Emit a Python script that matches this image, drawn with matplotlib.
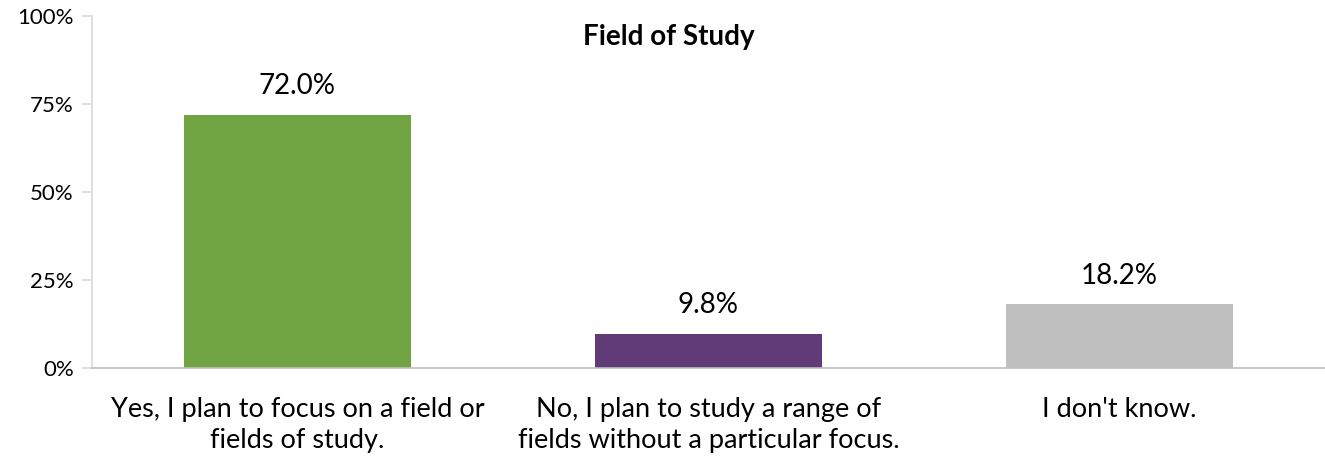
import numpy as np
import matplotlib.pyplot as plt

plt.rcParams['font.family'] = ['Lato', 'DejaVu Sans']

categories = ['Yes, I plan to focus on a field or\nfields of study.',
              'No, I plan to study a range of\nfields without a particular focus.',
              "I don't know."]
values = [72.0, 9.8, 18.2]
colors = ['#70A442', '#603B78', '#BFBFBF']
yticks = [0, 25, 50, 75, 100]

fig = plt.figure(figsize=(13.25, 4.58), dpi=100)
ax = fig.add_axes([0.0694, 0.1965, 0.9306, 0.7685])

x = np.arange(len(values))
bars = ax.bar(x, values, width=0.552, color=colors, zorder=2)

for xi, v in zip(x, values):
    ax.annotate('%.1f%%' % v, (xi, v), xytext=(0, 11), textcoords='offset points',
                ha='center', va='bottom', fontsize=20)

ax.set_xlim(-0.5, 2.5)
ax.set_ylim(0, 100)
ax.set_yticks(yticks)
ax.set_yticklabels(['%d%%' % t for t in yticks], fontsize=16)
ax.set_xticks(x)
ax.set_xticklabels(categories, fontsize=19.5, linespacing=1.3)

for s in ['top', 'right']:
    ax.spines[s].set_visible(False)
ax.spines['left'].set_color('#D9D9D9')
ax.spines['bottom'].set_color('#BFBFBF')
ax.spines['left'].set_linewidth(1.2)
ax.spines['bottom'].set_linewidth(1.2)
ax.tick_params(axis='y', length=7, color='#D9D9D9', width=1.2, pad=6)
ax.tick_params(axis='x', length=0, pad=21)

fig.text(0.505, 0.919, 'Field of Study', ha='center', va='center',
         fontsize=20, fontweight='bold')

fig.savefig('out.png', dpi=100)
